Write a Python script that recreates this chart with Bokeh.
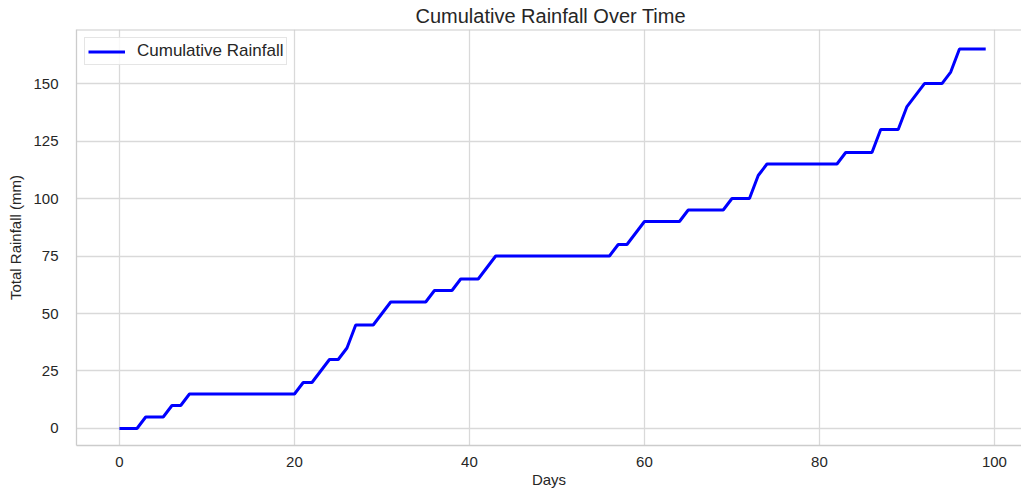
from bokeh.plotting import figure
from bokeh.models import Range1d, Legend, LegendItem, FixedTicker, Span
from bokeh.embed import file_html
from bokeh.resources import INLINE

# ---- data ----
days = list(range(100))
cumulative_rainfall = [
    0, 0, 0, 5, 5, 5, 10, 10, 15, 15,            # 0-9
    15, 15, 15, 15, 15, 15, 15, 15, 15, 15,      # 10-19
    15, 20, 20, 25, 30, 30, 35, 45, 45, 45,      # 20-29
    50, 55, 55, 55, 55, 55, 60, 60, 60, 65,      # 30-39
    65, 65, 70, 75, 75, 75, 75, 75, 75, 75,      # 40-49
    75, 75, 75, 75, 75, 75, 75, 80, 80, 85,      # 50-59
    90, 90, 90, 90, 90, 95, 95, 95, 95, 95,      # 60-69
    100, 100, 100, 110, 115, 115, 115, 115, 115, 115,  # 70-79
    115, 115, 115, 120, 120, 120, 120, 130, 130, 130,  # 80-89
    140, 145, 150, 150, 150, 155, 165, 165, 165, 165,  # 90-99
]
x_ticks = [0, 20, 40, 60, 80, 100]
y_ticks = [0, 25, 50, 75, 100, 125, 150]
title_text = "Cumulative Rainfall Over Time"
x_label = "Days"
y_label = "Total Rainfall (mm)"
series_label = "Cumulative Rainfall"

FONT = "Liberation Sans"
TEXT = "#262626"
GRID = "#d9d9d9"
EDGE = "#cccccc"

Y_TOP = 173.5
p = figure(width=1021, height=490, output_backend="svg", toolbar_location=None,
           x_range=Range1d(-4.91, 103.09), y_range=Range1d(-7.4, Y_TOP),
           min_border_left=76, min_border_right=0, min_border_top=29, min_border_bottom=43)

p.title.text = title_text
p.title.align = "left"
p.title.offset = 339
p.title.text_font = FONT
p.title.text_font_size = "20px"
p.title.text_font_style = "normal"
p.title.text_color = TEXT
p.title.standoff = 5

r = p.line(days, cumulative_rainfall, line_color="blue", line_width=3)

p.xaxis.ticker = FixedTicker(ticks=x_ticks)
p.yaxis.ticker = FixedTicker(ticks=y_ticks)
for ax in (p.xaxis[0], p.yaxis[0]):
    ax.major_tick_line_color = None
    ax.minor_tick_line_color = None
    ax.axis_line_color = EDGE
    ax.axis_line_width = 1.3
    ax.major_label_text_font = FONT
    ax.major_label_text_font_size = "15px"
    ax.major_label_text_color = TEXT
    ax.axis_label_text_font = FONT
    ax.axis_label_text_font_size = "15px"
    ax.axis_label_text_font_style = "normal"
    ax.axis_label_text_color = TEXT
p.xaxis.axis_label = x_label
p.yaxis.axis_label = y_label
p.xaxis.major_label_standoff = 5
p.xaxis.axis_label_standoff = 1
p.yaxis.major_label_standoff = 12
p.yaxis.axis_label_standoff = 6

p.xgrid.ticker = FixedTicker(ticks=x_ticks)
p.ygrid.ticker = FixedTicker(ticks=y_ticks)
p.xgrid.grid_line_color = GRID
p.ygrid.grid_line_color = GRID
p.xgrid.grid_line_width = 1.3
p.ygrid.grid_line_width = 1.3

# frame border on left/top/bottom only (the right side runs past the window)
p.outline_line_color = None
p.add_layout(Span(location=Y_TOP, dimension="width", line_color=EDGE, line_width=2))
p.background_fill_color = "white"
p.border_fill_color = "white"

legend = Legend(items=[LegendItem(label=series_label, renderers=[r])],
                location="top_left")
legend.label_text_font = FONT
legend.label_text_font_size = "17px"
legend.label_text_color = TEXT
legend.border_line_color = EDGE
legend.border_line_width = 1
legend.background_fill_alpha = 0.8
legend.glyph_width = 37
legend.label_standoff = 12
legend.padding = 3
legend.margin = 8
legend.label_height = 17
legend.glyph_height = 17
p.add_layout(legend)

open("out.html", "w").write(file_html(p, INLINE))
